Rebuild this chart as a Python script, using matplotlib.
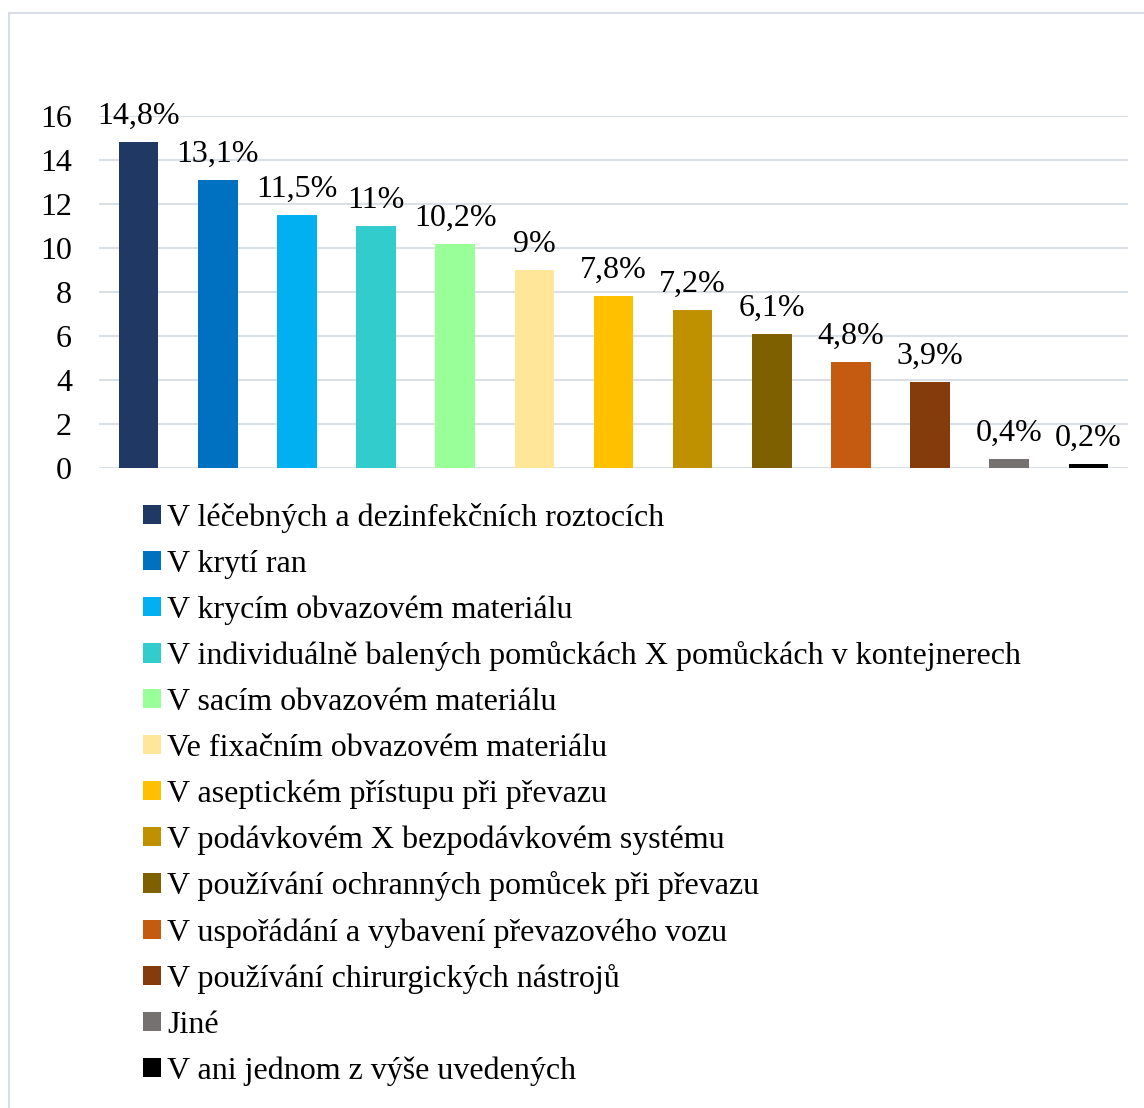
import matplotlib
matplotlib.use("AGG")
import matplotlib.pyplot as plt
from matplotlib.lines import Line2D
from matplotlib.patches import Patch

categories = [
    "V léčebných a dezinfekčních roztocích",
    "V krytí ran",
    "V krycím obvazovém materiálu",
    "V individuálně balených pomůckách X pomůckách v kontejnerech",
    "V sacím obvazovém materiálu",
    "Ve fixačním obvazovém materiálu",
    "V aseptickém přístupu při převazu",
    "V podávkovém X bezpodávkovém systému",
    "V používání ochranných pomůcek při převazu",
    "V uspořádání a vybavení převazového vozu",
    "V používání chirurgických nástrojů",
    "Jiné",
    "V ani jednom z výše uvedených",
]
values = [14.8, 13.1, 11.5, 11.0, 10.2, 9.0, 7.8, 7.2, 6.1, 4.8, 3.9, 0.4, 0.2]
value_labels = ["14,8%", "13,1%", "11,5%", "11%", "10,2%", "9%", "7,8%",
                "7,2%", "6,1%", "4,8%", "3,9%", "0,4%", "0,2%"]
colors = ["#203864", "#0070C0", "#00B0F0", "#33CCCC", "#99FF99", "#FFE699",
          "#FFC000", "#BF9000", "#7F6000", "#C55A11", "#843C0C", "#767171",
          "#000000"]
y_ticks = [0, 2, 4, 6, 8, 10, 12, 14, 16]

plt.rcParams["font.family"] = ["Liberation Serif", "DejaVu Serif"]
FS = 23

W, H = 1144, 1108
fig = plt.figure(figsize=(W / 100, H / 100), dpi=100)

# chart border (only top and left edges are visible in the crop)
border = dict(transform=fig.transFigure, color="#D9DEE6", linewidth=1.5)
fig.lines.append(Line2D([9 / W, 1], [(H - 13) / H] * 2, **border))
fig.lines.append(Line2D([9 / W] * 2, [0, (H - 13) / H], **border))

ax = fig.add_axes([99 / W, (H - 468) / H, (1128 - 99) / W, (468 - 116) / H])
x = range(len(values))
ax.bar(x, values, width=0.5, color=colors, zorder=3)
for i, (v, lab) in enumerate(zip(values, value_labels)):
    ax.annotate(lab, (i, v), xytext=(0, 8), textcoords="offset points",
                ha="center", va="bottom", fontsize=FS)

ax.set_xlim(-0.5, len(values) - 0.5)
ax.set_ylim(0, 16)
ax.set_yticks(y_ticks)
ax.set_xticks([])
ax.tick_params(axis="y", length=0, labelsize=FS, pad=19.5)
ax.grid(axis="y", color="#D9E0E8", linewidth=1.5, zorder=0)
for s in ax.spines.values():
    s.set_visible(False)

handles = [Patch(facecolor=c) for c in colors]
fig.legend(handles, categories, loc="upper left",
           bbox_to_anchor=(127 / W, (H - 487) / H), frameon=False,
           fontsize=FS, handlelength=0.55, handleheight=0.55,
           handletextpad=0.2, labelspacing=0.52, borderpad=0)

fig.savefig("out.png", dpi=100)
